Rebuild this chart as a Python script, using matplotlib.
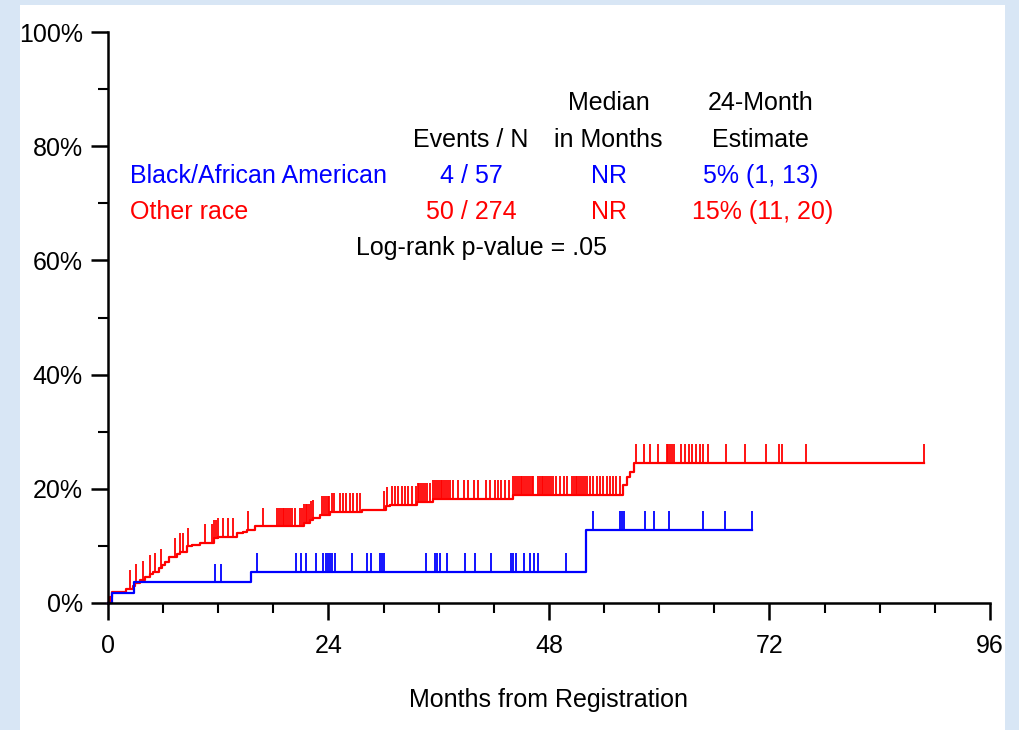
import numpy as np
import matplotlib
matplotlib.use('Agg')
import matplotlib.pyplot as plt
from matplotlib.patches import Rectangle
from matplotlib.ticker import MultipleLocator, FuncFormatter

plt.rcParams['font.family'] = ['Liberation Sans', 'DejaVu Sans']

# cumulative incidence steps (months, %)
red_t = [0, 0.2, 0.4, 2.0, 2.7, 2.9, 3.5, 4.0, 4.6, 4.9, 5.5, 5.9, 6.2, 6.6, 7.5, 7.8, 8.6, 9.1, 10.0, 11.5,
         12.0, 14.0, 14.7, 15.1, 16.0, 21.3, 22.0, 22.3, 23.1, 24.2, 27.6, 30.3, 30.7, 33.6, 35.4, 44.1,
         56.1, 56.5, 56.8, 57.3]
red_v = [0, 1.1, 2.0, 2.4, 2.9, 3.5, 4.0, 4.6, 5.1, 5.5, 6.1, 6.6, 7.2, 8.1, 8.6, 9.0, 9.9, 10.1, 10.5, 11.3,
         11.6, 12.2, 12.5, 12.8, 13.4, 14.0, 14.5, 14.8, 15.4, 15.9, 16.3, 17.0, 17.2, 17.7, 18.3, 19.0,
         20.7, 22.1, 23.0, 24.5]
red_end = 88.8
red_cens = [2.4, 3.0, 3.8, 4.6, 5.1, 5.8, 7.3, 7.8, 8.2, 8.7, 10.6, 11.3, 11.5, 11.8, 12.0, 12.5, 13.1, 13.6,
            15.2, 16.9, 18.4, 18.6, 18.8, 19.0, 19.2, 19.4, 19.6, 19.8, 20.0, 20.4, 20.9, 21.1, 21.3, 21.5,
            21.7, 21.9, 22.1, 22.3, 23.3, 23.5, 23.7, 23.9, 24.1, 24.4, 24.6, 25.3, 25.6, 25.9, 26.3, 26.7,
            27.1, 27.4, 30.0, 30.4, 30.9, 31.2, 31.6, 32.0, 32.3, 32.7, 33.1, 33.5, 33.7, 33.9, 34.1, 34.3,
            34.5, 34.7, 35.0, 35.4, 35.6, 35.8, 36.0, 36.2, 36.4, 36.6, 36.8, 37.0, 37.2, 37.6, 38.1, 38.7,
            39.2, 39.8, 40.3, 41.1, 41.6, 42.1, 42.5, 42.8, 43.2, 43.6, 44.1, 44.3, 44.5, 44.7, 44.9, 45.1,
            45.3, 45.5, 45.7, 45.9, 46.1, 46.3, 46.8, 47.0, 47.2, 47.4, 47.6, 47.8, 48.0, 48.2, 48.4, 48.8,
            49.2, 49.6, 50.0, 50.5, 50.7, 50.9, 51.1, 51.3, 51.5, 51.7, 51.9, 52.1, 52.5, 52.8, 53.2, 53.6,
            53.9, 54.3, 54.6, 55.0, 55.3, 55.7, 57.5, 58.3, 59.0, 59.9, 60.8, 61.0, 61.2, 61.4, 61.6, 62.4,
            62.8, 63.2, 63.6, 64.0, 64.4, 64.8, 65.3, 67.3, 69.3, 71.6, 73.0, 73.4, 76.0, 88.8]

blue_t = [0, 0.4, 2.8, 15.6, 52.0]
blue_v = [0, 1.8, 3.6, 5.4, 12.8]
blue_end = 70.1
blue_cens = [11.6, 12.3, 16.2, 20.5, 21.0, 21.5, 22.6, 23.4, 23.7, 24.0, 24.2, 24.4, 24.7, 26.6, 28.2, 28.6,
             29.6, 29.8, 30.0, 34.6, 35.6, 35.8, 36.1, 36.9, 38.9, 39.9, 41.7, 43.9, 44.1, 44.4, 45.3, 45.9,
             46.4, 46.8, 49.9, 52.8, 55.7, 55.9, 56.2, 58.4, 59.4, 61.1, 64.8, 67.2, 70.1]

x_ticks = [0, 24, 48, 72, 96]

fig = plt.figure(figsize=(10.2, 7.3), dpi=100, facecolor='#d8e6f5')
panel = Rectangle((20 / 1020, 0), 985 / 1020, 725 / 730, transform=fig.transFigure,
                  facecolor='white', edgecolor='none', zorder=-10)
fig.add_artist(panel)
ax = fig.add_axes([108 / 1020, 127 / 730, 882 / 1020, 571 / 730])
ax.set_facecolor('none')
ax.set_zorder(1)


def draw_curve(t, v, end, cens, color):
  tt = list(t) + [end]
  vv = list(v) + [v[-1]]
  ax.step(tt, vv, where='post', color=color, lw=1.6, clip_on=False)
  idx = np.searchsorted(np.array(t), np.array(cens), side='right') - 1
  yc = np.array(v)[idx]
  ax.vlines(cens, yc, yc + 3.3, color=color, lw=1.3)


draw_curve(red_t, red_v, red_end, red_cens, '#ff0000')
draw_curve(blue_t, blue_v, blue_end, blue_cens, '#0000ff')

ax.set_xlim(0, 96)
ax.set_ylim(0, 100)
ax.set_xticks(x_ticks)
ax.xaxis.set_minor_locator(MultipleLocator(6))
ax.yaxis.set_major_locator(MultipleLocator(20))
ax.yaxis.set_minor_locator(MultipleLocator(10))
ax.yaxis.set_major_formatter(FuncFormatter(lambda v, p: '%d%%' % v))
for s in ['top', 'right']:
  ax.spines[s].set_visible(False)
for s in ['left', 'bottom']:
  ax.spines[s].set_linewidth(1.8)
ax.tick_params(which='major', length=12, width=1.8, labelsize=18)
ax.tick_params(which='minor', length=7, width=1.5)
ax.tick_params(axis='x', which='major', pad=10)
ax.tick_params(axis='y', which='major', pad=6)
ax.set_xlabel('Months from Registration', fontsize=18, labelpad=22)

fs = 18
ax.text(54.5, 87.6, 'Median', ha='center', va='center', fontsize=fs)
ax.text(71.0, 87.6, '24-Month', ha='center', va='center', fontsize=fs)
ax.text(39.5, 81.1, 'Events / N', ha='center', va='center', fontsize=fs)
ax.text(54.5, 81.1, 'in Months', ha='center', va='center', fontsize=fs)
ax.text(71.0, 81.1, 'Estimate', ha='center', va='center', fontsize=fs)
ax.text(2.4, 74.8, 'Black/African American', ha='left', va='center', fontsize=fs, color='#0000ff')
ax.text(39.5, 74.8, '4 / 57', ha='center', va='center', fontsize=fs, color='#0000ff')
ax.text(54.5, 74.8, 'NR', ha='center', va='center', fontsize=fs, color='#0000ff')
ax.text(71.0, 74.8, '5% (1, 13)', ha='center', va='center', fontsize=fs, color='#0000ff')
ax.text(2.4, 68.5, 'Other race', ha='left', va='center', fontsize=fs, color='#ff0000')
ax.text(39.5, 68.5, '50 / 274', ha='center', va='center', fontsize=fs, color='#ff0000')
ax.text(54.5, 68.5, 'NR', ha='center', va='center', fontsize=fs, color='#ff0000')
ax.text(71.2, 68.5, '15% (11, 20)', ha='center', va='center', fontsize=fs, color='#ff0000')
ax.text(40.7, 62.2, 'Log-rank p-value = .05', ha='center', va='center', fontsize=fs)

fig.savefig('out.png', dpi=100, facecolor=fig.get_facecolor())
